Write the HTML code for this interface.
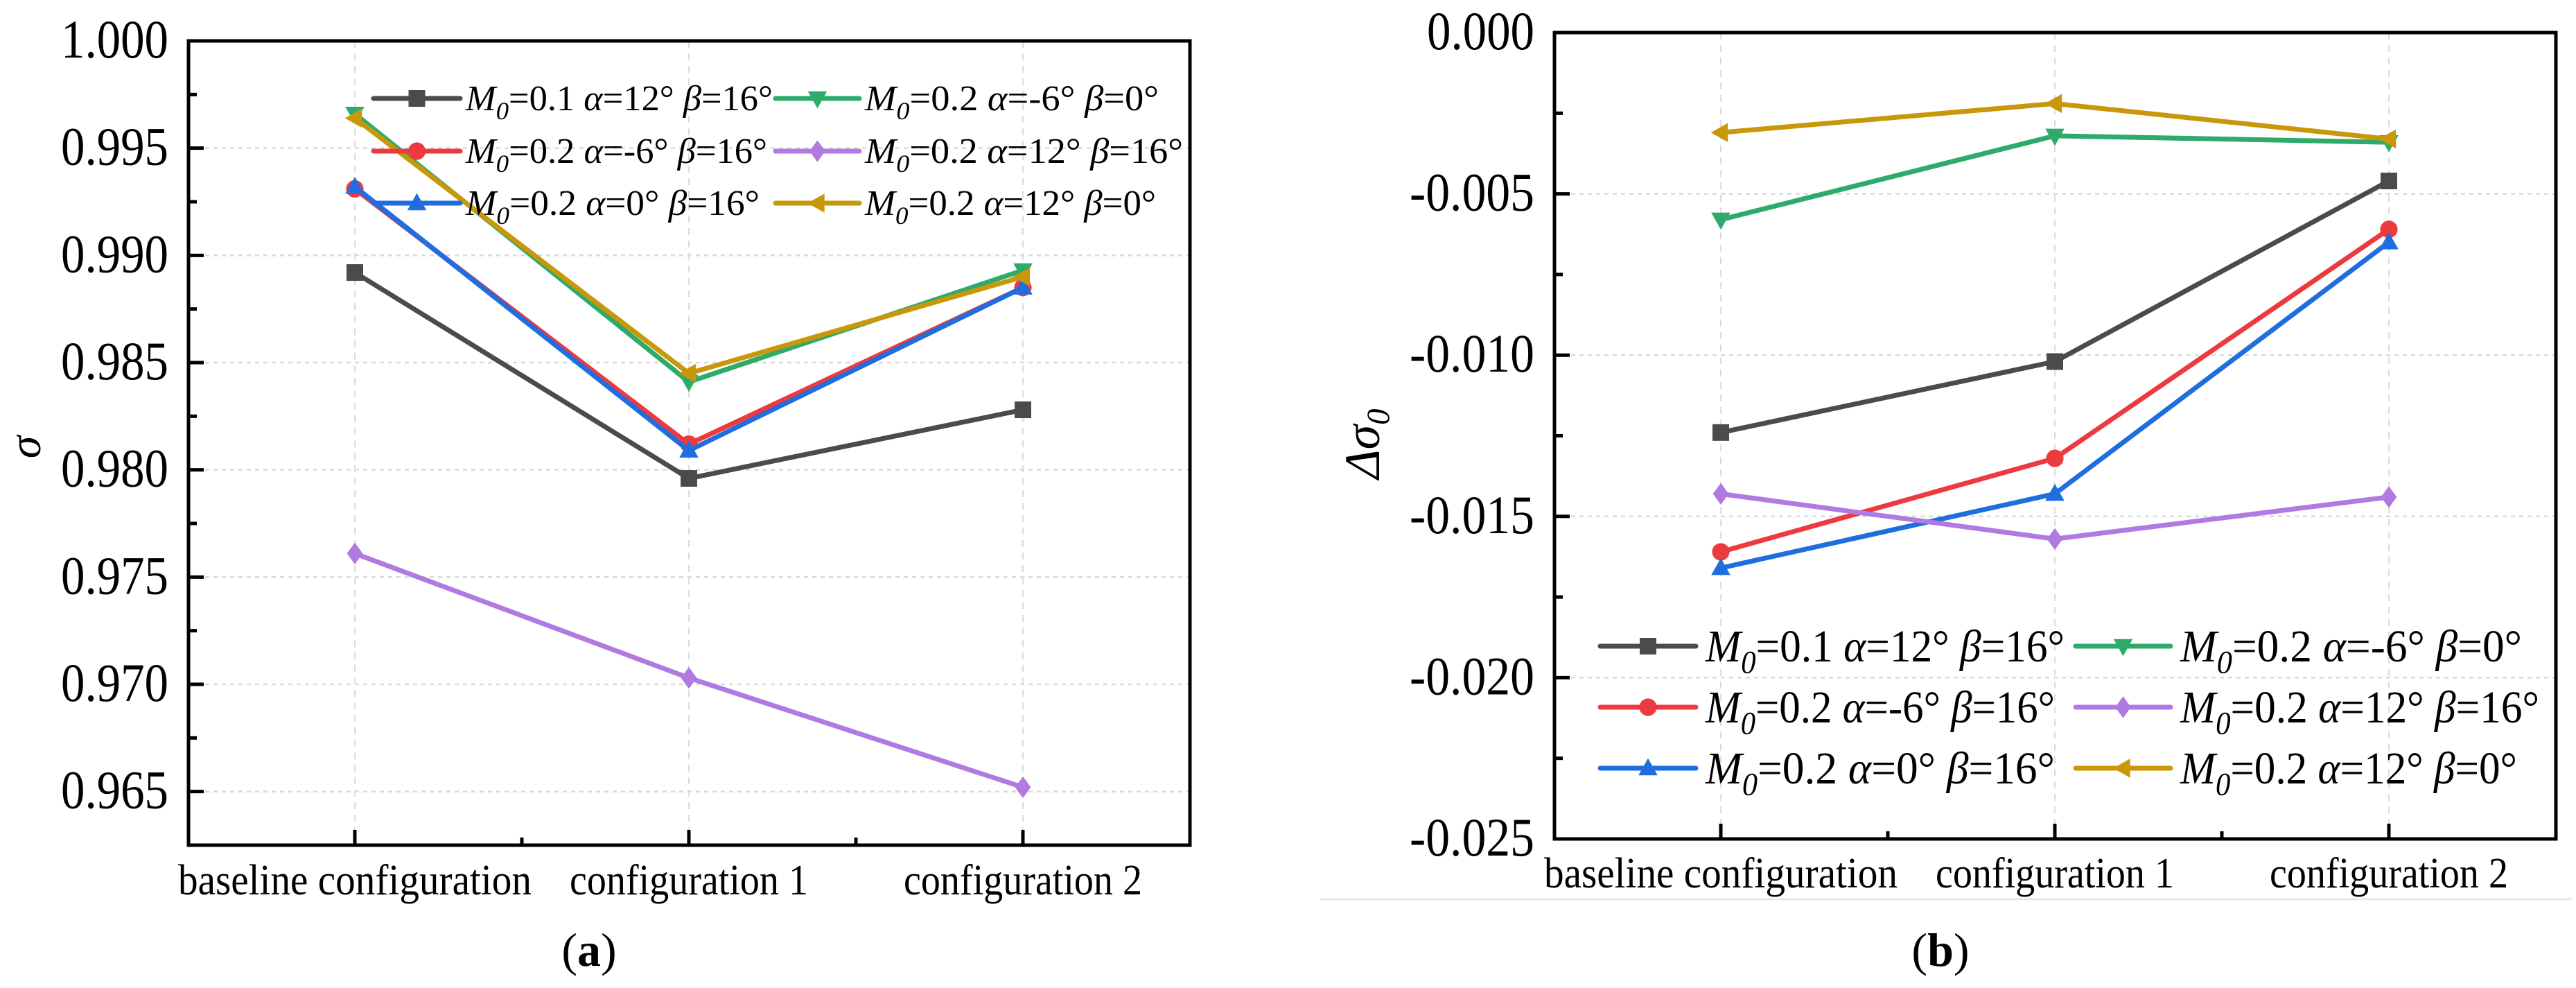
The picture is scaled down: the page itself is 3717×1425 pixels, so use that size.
<!DOCTYPE html>
<html><head><meta charset="utf-8"><style>
html,body{margin:0;padding:0;background:#fff;}
svg{display:block;}
text{font-family:"Liberation Serif",serif;fill:#000;}
</style></head><body>
<svg id="fig" width="3717" height="1425" viewBox="0 0 3717 1425" xmlns="http://www.w3.org/2000/svg">
<line x1="1905" y1="1297" x2="3711" y2="1297" stroke="#e8e8e8" stroke-width="3"/>
<g id="pa"></g>
<g id="pb"></g>
</svg>
<script>
const categories = ["baseline configuration", "configuration 1", "configuration 2"];
const seriesLabels = [
  ["0.1", "12°", "16°"], ["0.2", "-6°", "16°"], ["0.2", "0°", "16°"],
  ["0.2", "-6°", "0°"], ["0.2", "12°", "16°"], ["0.2", "12°", "0°"]
];
const seriesColors = ["#4b4b4b", "#ec3a3f", "#1f6ddf", "#2eaa6a", "#b07ae0", "#c9980a"];
const seriesMarkers = ["square", "circle", "up", "down", "diamond", "left"];
// panel (a) sigma
const sigmaBlack = [0.9892, 0.9796, 0.9828];
const sigmaRed = [0.9931, 0.9812, 0.9885];
const sigmaBlue = [0.9932, 0.9809, 0.9885];
const sigmaGreen = [0.9966, 0.9841, 0.9893];
const sigmaPurple = [0.9761, 0.9703, 0.9652];
const sigmaGold = [0.9964, 0.9845, 0.9890];
const sigmaTicks = ["1.000", "0.995", "0.990", "0.985", "0.980", "0.975", "0.970", "0.965"];
// panel (b) delta sigma0
const dBlack = [-0.0124, -0.0102, -0.0046];
const dRed = [-0.0161, -0.0132, -0.0061];
const dBlue = [-0.0166, -0.0143, -0.0065];
const dGreen = [-0.0058, -0.0032, -0.0034];
const dPurple = [-0.0143, -0.0157, -0.0144];
const dGold = [-0.0031, -0.0022, -0.0033];
const dTicks = ["0.000", "-0.005", "-0.010", "-0.015", "-0.020", "-0.025"];

const NS = "http://www.w3.org/2000/svg";
function mk(parent, tag, attrs) {
  const e = document.createElementNS(NS, tag);
  for (const k in attrs) e.setAttribute(k, attrs[k]);
  parent.appendChild(e);
  return e;
}
function marker(g, shape, cx, cy, s, color) {
  let e;
  const h = s / 2;
  if (shape === "square") e = mk(g, "rect", {x: cx - h, y: cy - h, width: s, height: s, fill: color});
  else if (shape === "circle") e = mk(g, "circle", {cx: cx, cy: cy, r: h * 1.05, fill: color});
  else if (shape === "up") e = mk(g, "polygon", {points: `${cx},${cy - h * 1.2} ${cx + h * 1.15},${cy + h * 0.85} ${cx - h * 1.15},${cy + h * 0.85}`, fill: color});
  else if (shape === "down") e = mk(g, "polygon", {points: `${cx},${cy + h * 1.2} ${cx + h * 1.15},${cy - h * 0.85} ${cx - h * 1.15},${cy - h * 0.85}`, fill: color});
  else if (shape === "diamond") e = mk(g, "polygon", {points: `${cx},${cy - h * 1.3} ${cx + h * 0.95},${cy} ${cx},${cy + h * 1.3} ${cx - h * 0.95},${cy}`, fill: color});
  else e = mk(g, "polygon", {points: `${cx - h * 1.2},${cy} ${cx + h * 0.85},${cy - h * 1.15} ${cx + h * 0.85},${cy + h * 1.15}`, fill: color});
  
  
}

function panel(cfg) {
  const g = document.getElementById(cfg.id);
  const L = cfg.left, R = cfg.right, T = cfg.top, B = cfg.bottom;
  const xs = i => cfg.cx0 + cfg.step * i;
  const ys = v => T + (cfg.vmax - v) / (cfg.vmax - cfg.vmin) * (B - T);
  cfg.ticks.forEach((t, i) => {
    const y = ys(parseFloat(t));
    if (i > 0) {
      const gl = mk(g, "line", {x1: L, y1: y, x2: R, y2: y, stroke: "#d9d9d9", "stroke-width": 2.5, "stroke-dasharray": "6 6"});
      
      
    }
  });
  categories.forEach((c, i) => {
    const gl = mk(g, "line", {x1: xs(i), y1: T, x2: xs(i), y2: B, stroke: "#dcdcdc", "stroke-width": 2, "stroke-dasharray": "10 8"});
    
    
  });
  cfg.series.forEach((vals, si) => {
    const sg = mk(g, "g", {});
    
    
    const pts = vals.map((v, i) => xs(i) + "," + ys(v)).join(" ");
    const pl = mk(sg, "polyline", {points: pts, fill: "none", stroke: seriesColors[si], "stroke-width": cfg.lw, "stroke-linejoin": "round"});
    
    
    vals.forEach((v, i) => marker(sg, seriesMarkers[si], xs(i), ys(v), cfg.ms, seriesColors[si]));
  });
  const fr = mk(g, "rect", {x: L, y: T, width: R - L, height: B - T, fill: "none", stroke: "#000", "stroke-width": 5});
  
  
  cfg.ticks.forEach((t, i) => {
    const y = ys(parseFloat(t));
    const tk = mk(g, "line", {x1: L, y1: y, x2: L + 22, y2: y, stroke: "#000", "stroke-width": 5});
    
    
    if (i < cfg.ticks.length - 1) {
      const ym = y + (ys(parseFloat(cfg.ticks[i + 1])) - y) / 2;
      const mt = mk(g, "line", {x1: L, y1: ym, x2: L + 12, y2: ym, stroke: "#000", "stroke-width": 5});
      
      
    }
    const tx = mk(g, "text", {x: L - 29, y: y + 24, "font-size": 78, "text-anchor": "end", textLength: t.length > 5 ? 180 : 155, lengthAdjust: "spacingAndGlyphs"});
    tx.textContent = t;
    
    
  });
  categories.forEach((c, i) => {
    const x = xs(i);
    const tk = mk(g, "line", {x1: x, y1: B, x2: x, y2: B - 22, stroke: "#000", "stroke-width": 5});
    
    
    if (i < categories.length - 1) {
      const mt = mk(g, "line", {x1: x + cfg.step / 2, y1: B, x2: x + cfg.step / 2, y2: B - 11, stroke: "#000", "stroke-width": 5});
      
      
    }
    const tx = mk(g, "text", {x: x, y: cfg.catY, "font-size": 62, "text-anchor": "middle", textLength: i === 0 ? 510 : 344, lengthAdjust: "spacingAndGlyphs"});
    tx.textContent = c;
    
    
  });
  const at = mk(g, "text", {x: 0, y: 0, "font-size": cfg.titleSize, "font-style": "italic", "text-anchor": "middle", transform: `translate(${cfg.titleX},${cfg.titleY}) rotate(-90)`});
  
  
  if (cfg.delta) {
    at.textContent = "Δσ";
    const sub = mk(at, "tspan", {"font-size": cfg.titleSize * 0.65, dy: 14});
    sub.textContent = "0";
  } else at.textContent = "σ";
  const pl = mk(g, "text", {x: cfg.labelX, y: 1393, "font-size": 68, "text-anchor": "middle"});
  
  
  const o = mk(pl, "tspan", {}); o.textContent = "(";
  const b = mk(pl, "tspan", {"font-weight": "bold"}); b.textContent = cfg.delta ? "b" : "a";
  const c2 = mk(pl, "tspan", {}); c2.textContent = ")";
  const lg = mk(g, "g", {});
  
  
  [0, 1, 2, 3, 4, 5].forEach((si) => {
    const col = si < 3 ? 0 : 1, row = si % 3;
    const y = cfg.legY[row];
    const x1 = cfg.legLineX[col][0], x2 = cfg.legLineX[col][1];
    const eg = mk(lg, "g", {});
    
    
    mk(eg, "line", {x1: x1, y1: y, x2: x2, y2: y, stroke: seriesColors[si], "stroke-width": cfg.lw, "stroke-linecap": "round"});
    marker(eg, seriesMarkers[si], (x1 + x2) / 2, y, cfg.ms, seriesColors[si]);
    const lab = seriesLabels[si];
    const t = mk(eg, "text", {x: cfg.legTextX[col], y: y + cfg.legFont * 0.33, "font-size": cfg.legFont, "font-style": "italic", textLength: cfg.legW[si], lengthAdjust: "spacingAndGlyphs"});
    
    
    const m = mk(t, "tspan", {}); m.textContent = "M";
    const s0 = mk(t, "tspan", {"font-size": cfg.legFont * 0.7, dy: cfg.legFont * 0.25}); s0.textContent = "0";
    const rest = mk(t, "tspan", {dy: -cfg.legFont * 0.25, "font-style": "normal"}); rest.textContent = "=" + lab[0] + " ";
    const a = mk(t, "tspan", {}); a.textContent = "α";
    const r2 = mk(t, "tspan", {"font-style": "normal"}); r2.textContent = "=" + lab[1] + " ";
    const be = mk(t, "tspan", {}); be.textContent = "β";
    const r3 = mk(t, "tspan", {"font-style": "normal"}); r3.textContent = "=" + lab[2];
  });
}

panel({
  id: "pa", left: 272, right: 1717, top: 59, bottom: 1219, vmax: 1.000, vmin: 0.9625,
  cx0: 512, step: 482, ticks: sigmaTicks,
  series: [sigmaBlack, sigmaRed, sigmaBlue, sigmaGreen, sigmaPurple, sigmaGold],
  lw: 7, ms: 24, catY: 1290, titleX: 58, titleY: 645, titleSize: 66, delta: false, labelX: 850,
  legY: [142, 218, 293], legLineX: [[539, 664], [1119, 1240]], legTextX: [672, 1248], legFont: 52,
  legW: [443, 435, 424, 424, 459, 420]
});
panel({
  id: "pb", left: 2243, right: 3688, top: 47, bottom: 1210, vmax: 0, vmin: -0.025,
  cx0: 2483, step: 482, ticks: dTicks,
  series: [dBlack, dRed, dBlue, dGreen, dPurple, dGold],
  lw: 7, ms: 24, catY: 1280, titleX: 1990, titleY: 640, titleSize: 72, delta: true, labelX: 2800,
  legY: [932, 1020, 1108], legLineX: [[2309, 2447], [2995, 3132]], legTextX: [2461, 3146], legFont: 66,
  legW: [518, 504, 504, 493, 518, 486]
});
</script>
</body></html>
